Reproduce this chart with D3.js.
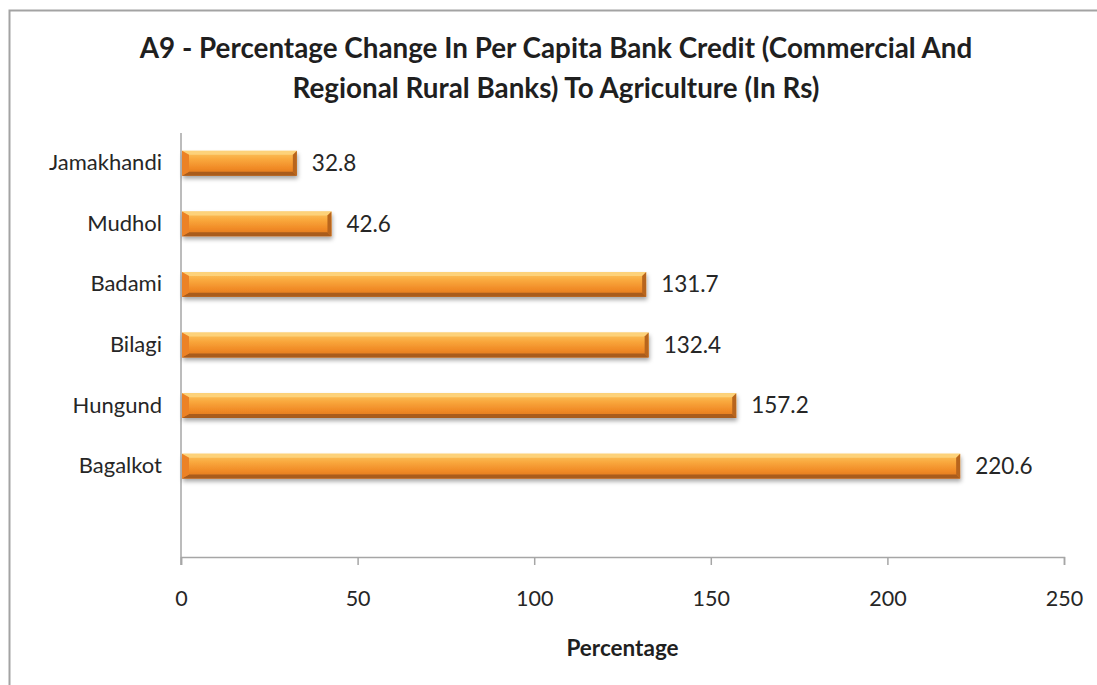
<!DOCTYPE html>
<html>
<head>
<meta charset="utf-8">
<script src="https://cdn.jsdelivr.net/npm/d3@7"></script>
<style>
  html, body { margin: 0; padding: 0; background: #ffffff; }
  svg { display: block; }
</style>
</head>
<body>
<script>
// Districts, top to bottom; the last slot is a blank row in the category axis
const categories = ["Jamakhandi", "Mudhol", "Badami", "Bilagi", "Hungund", "Bagalkot", ""];
const values = [32.8, 42.6, 131.7, 132.4, 157.2, 220.6, null];
const xTicks = [0, 50, 100, 150, 200, 250];
const titleLines = [
  "A9 - Percentage Change In Per Capita Bank Credit (Commercial And",
  "Regional Rural Banks) To Agriculture (In Rs)"
];
const xTitle = "Percentage";

const W = 1097, H = 685;
const FONT = "Lato, 'Open Sans', sans-serif";
const plot = { left: 181, right: 1064, top: 133, bottom: 557 };

const svg = d3.select("body").append("svg")
  .attr("width", W).attr("height", H);

const defs = svg.append("defs");
const grad = defs.append("linearGradient")
  .attr("id", "barFill").attr("x1", 0).attr("y1", 0).attr("x2", 0).attr("y2", 1);
[["0%", "#fcc762"], ["35%", "#f9a73c"], ["70%", "#f08a26"], ["100%", "#dc741c"]]
  .forEach(([o, c]) => grad.append("stop").attr("offset", o).attr("stop-color", c));

const shadow = defs.append("filter").attr("id", "barShadow")
  .attr("x", "-5%").attr("y", "-40%").attr("width", "110%").attr("height", "200%");
shadow.append("feDropShadow")
  .attr("dx", 1).attr("dy", 3).attr("stdDeviation", 2)
  .attr("flood-color", "#000").attr("flood-opacity", 0.35);

// Outer chart frame
svg.append("rect")
  .attr("x", 9.5).attr("y", 10.5).attr("width", 1110).attr("height", 700)
  .attr("fill", "#fff").attr("stroke", "#a3a3a3").attr("stroke-width", 2);

// Title
svg.append("g").selectAll("text").data(titleLines).join("text")
  .attr("x", 556).attr("y", (d, i) => 58 + i * 40)
  .attr("text-anchor", "middle")
  .attr("font-family", FONT).attr("font-weight", "bold").attr("font-size", 27.8)
  .attr("fill", "#1f1f1f")
  .text(d => d);

const x = d3.scaleLinear().domain([0, 250]).range([plot.left, plot.right]);
const y = d3.scaleBand().domain(categories).range([plot.top, plot.bottom]).padding(0);
const barH = y.bandwidth() * 0.41;

// Horizontal value axis
const xAxis = svg.append("g")
  .attr("transform", `translate(0,${plot.bottom})`)
  .call(d3.axisBottom(x).tickValues(xTicks).tickSize(8).tickPadding(26).tickFormat(d3.format("d")));
xAxis.select(".domain").attr("stroke", "#a6a6a6").attr("stroke-width", 1.5);
xAxis.selectAll(".tick line").attr("stroke", "#a6a6a6").attr("stroke-width", 1.5);
xAxis.selectAll(".tick text")
  .attr("font-family", FONT).attr("font-size", 21.5).attr("fill", "#262626");

// Vertical category axis
const yAxis = svg.append("g")
  .attr("transform", `translate(${plot.left},0)`)
  .call(d3.axisLeft(y).tickSize(0).tickPadding(19));
yAxis.select(".domain").attr("stroke", "#a6a6a6").attr("stroke-width", 1.5)
  .attr("d", `M0,${plot.top}V${plot.bottom + 8}`);
yAxis.selectAll(".tick text")
  .attr("font-family", FONT).attr("font-size", 22).attr("fill", "#262626");

// Bevelled bars
const rows = categories.map((c, i) => ({ c, v: values[i] })).filter(d => d.v != null);
const bars = svg.append("g").selectAll("g").data(rows).join("g")
  .attr("transform", d => `translate(0,${y(d.c) + (y.bandwidth() - barH) / 2})`);

bars.append("rect")
  .attr("x", x(0) + 1).attr("y", 0)
  .attr("width", d => x(d.v) - x(0) - 1).attr("height", barH)
  .attr("fill", "url(#barFill)").attr("filter", "url(#barShadow)");

const bv = 4, bl = 7;
bars.each(function (d) {
  const g = d3.select(this);
  const x0 = x(0) + 1, x1 = x(d.v), h = barH;
  const poly = (pts, fill) => g.append("polygon")
    .attr("points", pts.map(p => p.join(",")).join(" ")).attr("fill", fill);
  // top highlight
  poly([[x0, 0], [x1, 0], [x1 - bv, bv], [x0 + bl, bv]], "#fdd27a");
  // bottom shade
  poly([[x0, h], [x1, h], [x1 - bv, h - bv], [x0 + bl, h - bv]], "#a95c1c");
  // left wedge
  poly([[x0, 0], [x0 + bl, bv], [x0 + bl, h - bv], [x0, h]], "#ec8226");
  // right edge
  poly([[x1, 0], [x1 - bv, bv], [x1 - bv, h - bv], [x1, h]], "#b8651d");
});

// Value labels
bars.append("text")
  .attr("x", d => x(d.v) + 15).attr("y", barH / 2)
  .attr("dy", "0.35em")
  .attr("font-family", FONT).attr("font-size", 22.5).attr("fill", "#262626")
  .text(d => d.v.toFixed(1));

// Axis title
svg.append("text")
  .attr("x", (plot.left + plot.right) / 2).attr("y", 656)
  .attr("text-anchor", "middle")
  .attr("font-family", FONT).attr("font-weight", "bold").attr("font-size", 22.5)
  .attr("fill", "#1f1f1f")
  .text(xTitle);
</script>
</body>
</html>
